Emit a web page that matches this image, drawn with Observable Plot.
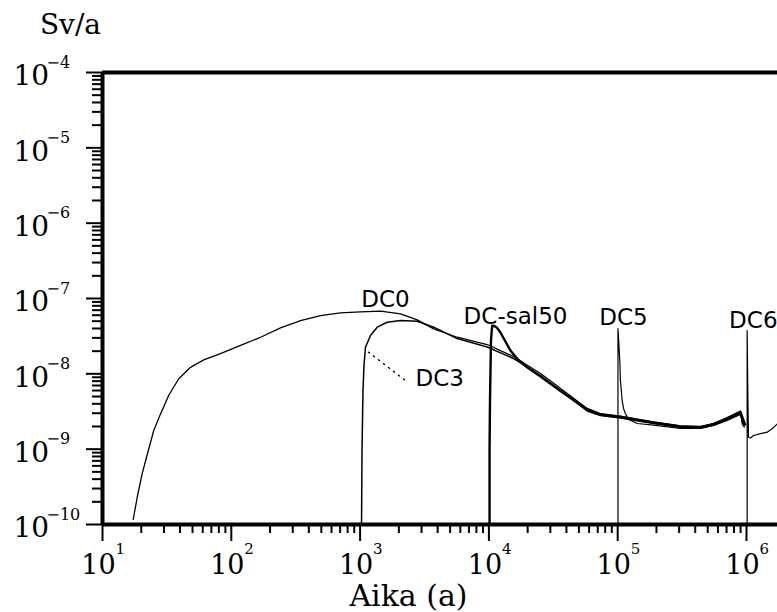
<!DOCTYPE html>
<html><head><meta charset="utf-8">
<script src="https://cdn.jsdelivr.net/npm/d3@7"></script>
<script src="https://cdn.jsdelivr.net/npm/@observablehq/plot@0.6"></script>
<style>html,body{margin:0;padding:0;background:#fff}#chart svg{display:block}</style>
</head><body><div id="chart"></div>
<script>
// Axis ticks and labels
const xMajor = [1e1, 1e2, 1e3, 1e4, 1e5, 1e6];
const xExp = ["1", "2", "3", "4", "5", "6"];
const yMajor = [1e-4, 1e-5, 1e-6, 1e-7, 1e-8, 1e-9, 1e-10];
const yExp = ["−4", "−5", "−6", "−7", "−8", "−9", "−10"];
const yTitle = "Sv/a";
const xTitle = "Aika (a)";

// Series: age (a) and dose rate (Sv/a)
const dc0Age = [17.3, 18.6, 20.3, 22.5, 25, 27.9, 32.7, 39.1, 48.2, 61.1, 82.4, 118, 169, 241, 345, 493, 705, 1007, 1440, 2060, 2775, 3730, 5670, 9700, 15500, 25200, 36000, 58000, 73500, 105000, 190000, 307000, 440000, 557000, 708000, 898000, 930000];
const dc0Dose = [1.15e-10, 2.3e-10, 4.7e-10, 9.1e-10, 1.77e-9, 2.8e-9, 5.2e-9, 8.6e-9, 1.22e-8, 1.53e-8, 1.85e-8, 2.38e-8, 3.06e-8, 4.08e-8, 5.1e-8, 5.94e-8, 6.46e-8, 6.66e-8, 6.78e-8, 6.26e-8, 5.21e-8, 3.96e-8, 3.06e-8, 2.45e-8, 1.70e-8, 1.01e-8, 6.4e-9, 3.47e-9, 2.97e-9, 2.75e-9, 2.29e-9, 2.03e-9, 2.0e-9, 2.19e-9, 2.63e-9, 3.21e-9, 2.12e-9];

const dc3Age = [1026, 1035, 1053, 1072, 1101, 1204, 1358, 1624, 2060, 2775, 3730, 5670, 9700, 15500, 25200, 36000, 58000, 73500, 105000, 190000, 307000, 440000, 557000, 708000, 898000, 950000];
const dc3Dose = [1e-10, 9.6e-10, 6.0e-9, 1.29e-8, 2.25e-8, 3.23e-8, 4.16e-8, 4.84e-8, 5.1e-8, 5.0e-8, 4.16e-8, 2.94e-8, 2.27e-8, 1.6e-8, 9.5e-9, 6.0e-9, 3.21e-9, 2.8e-9, 2.59e-9, 2.19e-9, 1.94e-9, 1.91e-9, 2.09e-9, 2.48e-9, 2.97e-9, 2.0e-9];

const sal50Age = [10120, 10120, 10200, 10380, 10600, 11050, 11590, 12300, 12980, 14700, 16600, 19800, 25200, 36000, 58000, 73500, 105000, 190000, 307000, 440000, 557000, 708000, 898000, 980000];
const sal50Dose = [1e-10, 1e-9, 4.4e-9, 2.77e-8, 4.37e-8, 4.31e-8, 4.06e-8, 3.54e-8, 2.99e-8, 2.04e-8, 1.58e-8, 1.22e-8, 9.2e-9, 5.9e-9, 3.36e-9, 2.88e-9, 2.67e-9, 2.26e-9, 2.0e-9, 1.94e-9, 2.16e-9, 2.55e-9, 3.11e-9, 2.06e-9];

const dc5Age = [100500, 100500, 102300, 104200, 105000, 108400, 111000, 115000, 122000, 142000, 190000, 307000, 440000, 557000, 708000, 898000, 964000];
const dc5Dose = [1e-10, 4.0e-8, 2.38e-8, 1.29e-8, 8.1e-9, 4.4e-9, 3.47e-9, 2.95e-9, 2.48e-9, 2.19e-9, 2.09e-9, 1.88e-9, 1.88e-9, 2.06e-9, 2.40e-9, 2.88e-9, 1.94e-9];

const dc6Age = [1012000, 1012000, 1026000, 1037000, 1075000, 1133000, 1285000, 1448000, 1590000, 1741000, 1900000];
const dc6Dose = [1e-10, 3.76e-8, 4.4e-9, 1.43e-9, 1.41e-9, 1.52e-9, 1.61e-9, 1.68e-9, 1.88e-9, 2.17e-9, 2.5e-9];

// Curve labels
const labelNames = ["DC0", "DC-sal50", "DC5", "DC6", "DC3"];
const labelAge = [1574, 16100, 111000, 1130000, 2692];
const labelDose = [9.7e-8, 5.77e-8, 5.6e-8, 5.1e-8, 8.67e-9];
const leaderAge = [1161, 2250];
const leaderDose = [1.94e-8, 8.15e-9];

const xDomain = [10, 1.741e6];
const yDomain = [1e-10, 1e-4];

const toRows = (ages, doses) => ages.map((a, i) => ({age: a, dose: doses[i]}));
const xMinor = [];
for (let d = 1; d <= 6; d++) for (let m = 2; m <= 9; m++) { const v = m * 10 ** d; if (v < xDomain[1]) xMinor.push(v); }
const yMinor = [];
for (let d = -10; d < -4; d++) for (let m = 2; m <= 9; m++) yMinor.push(m * 10 ** d);

const serif = "DejaVu Serif";
const sans = "DejaVu Sans";
const lineOpts = {x: "age", y: "dose", stroke: "#000", clip: true, strokeLinejoin: "round", strokeLinecap: "butt"};
const labels = labelNames.map((n, i) => ({name: n, age: labelAge[i], dose: labelDose[i]}));
const txt = {fill: "#000", lineAnchor: "middle"};

const chart = Plot.plot({
  width: 777, height: 612,
  marginLeft: 102, marginRight: 0, marginTop: 72, marginBottom: 88,
  style: {background: "#fff", color: "#000", fontFamily: serif, overflow: "visible"},
  x: {type: "log", domain: xDomain},
  y: {type: "log", domain: yDomain},
  marks: [
    Plot.axisX(xMinor, {anchor: "bottom", tickSize: 9, strokeWidth: 2, tickFormat: () => "", label: null}),
    Plot.axisX(xMajor, {anchor: "bottom", tickSize: 17, strokeWidth: 2, tickFormat: () => "", label: null}),
    Plot.axisY(yMinor, {anchor: "left", tickSize: 10, strokeWidth: 2, tickFormat: () => "", label: null}),
    Plot.axisY(yMajor, {anchor: "left", tickSize: 16, strokeWidth: 2, tickFormat: () => "", label: null}),
    Plot.text(xMajor, {...txt, x: d => d, frameAnchor: "bottom", text: () => "10", textAnchor: "middle", dx: -4, dy: 41, fontSize: 27, fontFamily: serif}),
    Plot.text(xMajor, {...txt, x: d => d, frameAnchor: "bottom", text: (d, i) => xExp[i], textAnchor: "start", dx: 13, dy: 25, fontSize: 15, fontFamily: serif}),
    Plot.text(yMajor, {...txt, y: d => d, frameAnchor: "left", text: () => "10", textAnchor: "start", dx: -89, dy: 4, fontSize: 28, fontFamily: serif}),
    Plot.text(yMajor, {...txt, y: d => d, frameAnchor: "left", text: (d, i) => yExp[i], textAnchor: "start", dx: -56, dy: -10, fontSize: 16, fontFamily: serif}),
    Plot.text([yTitle], {...txt, frameAnchor: "top-left", textAnchor: "middle", dx: -32, dy: -47, fontSize: 28, fontFamily: serif}),
    Plot.text([xTitle], {...txt, frameAnchor: "bottom-left", textAnchor: "middle", dx: 306, dy: 72, fontSize: 30, fontFamily: serif}),
    Plot.line(toRows(dc0Age, dc0Dose), {...lineOpts, strokeWidth: 1.3}),
    Plot.line(toRows(dc3Age, dc3Dose), {...lineOpts, strokeWidth: 1.5}),
    Plot.line(toRows(sal50Age, sal50Dose), {...lineOpts, strokeWidth: 2.4}),
    Plot.line(toRows(dc5Age, dc5Dose), {...lineOpts, strokeWidth: 1.2}),
    Plot.line(toRows(dc6Age, dc6Dose), {...lineOpts, strokeWidth: 1.2}),
    Plot.line(toRows(leaderAge, leaderDose), {x: "age", y: "dose", stroke: "#000", strokeWidth: 1.4, strokeDasharray: "1.3,5", strokeLinecap: "round"}),
    Plot.text(labels.filter(d => d.name !== "DC3"), {...txt, x: "age", y: "dose", text: "name", fontSize: 23, fontFamily: sans}),
    Plot.text(labels.filter(d => d.name === "DC3"), {...txt, x: "age", y: "dose", text: "name", textAnchor: "start", fontSize: 23, fontFamily: sans}),
    Plot.ruleY([yDomain[1]], {stroke: "#000", strokeWidth: 4}),
    Plot.ruleY([yDomain[0]], {stroke: "#000", strokeWidth: 4}),
    Plot.ruleX([xDomain[0]], {stroke: "#000", strokeWidth: 4})
  ]
});
document.getElementById("chart").append(chart);
</script>
</body></html>
